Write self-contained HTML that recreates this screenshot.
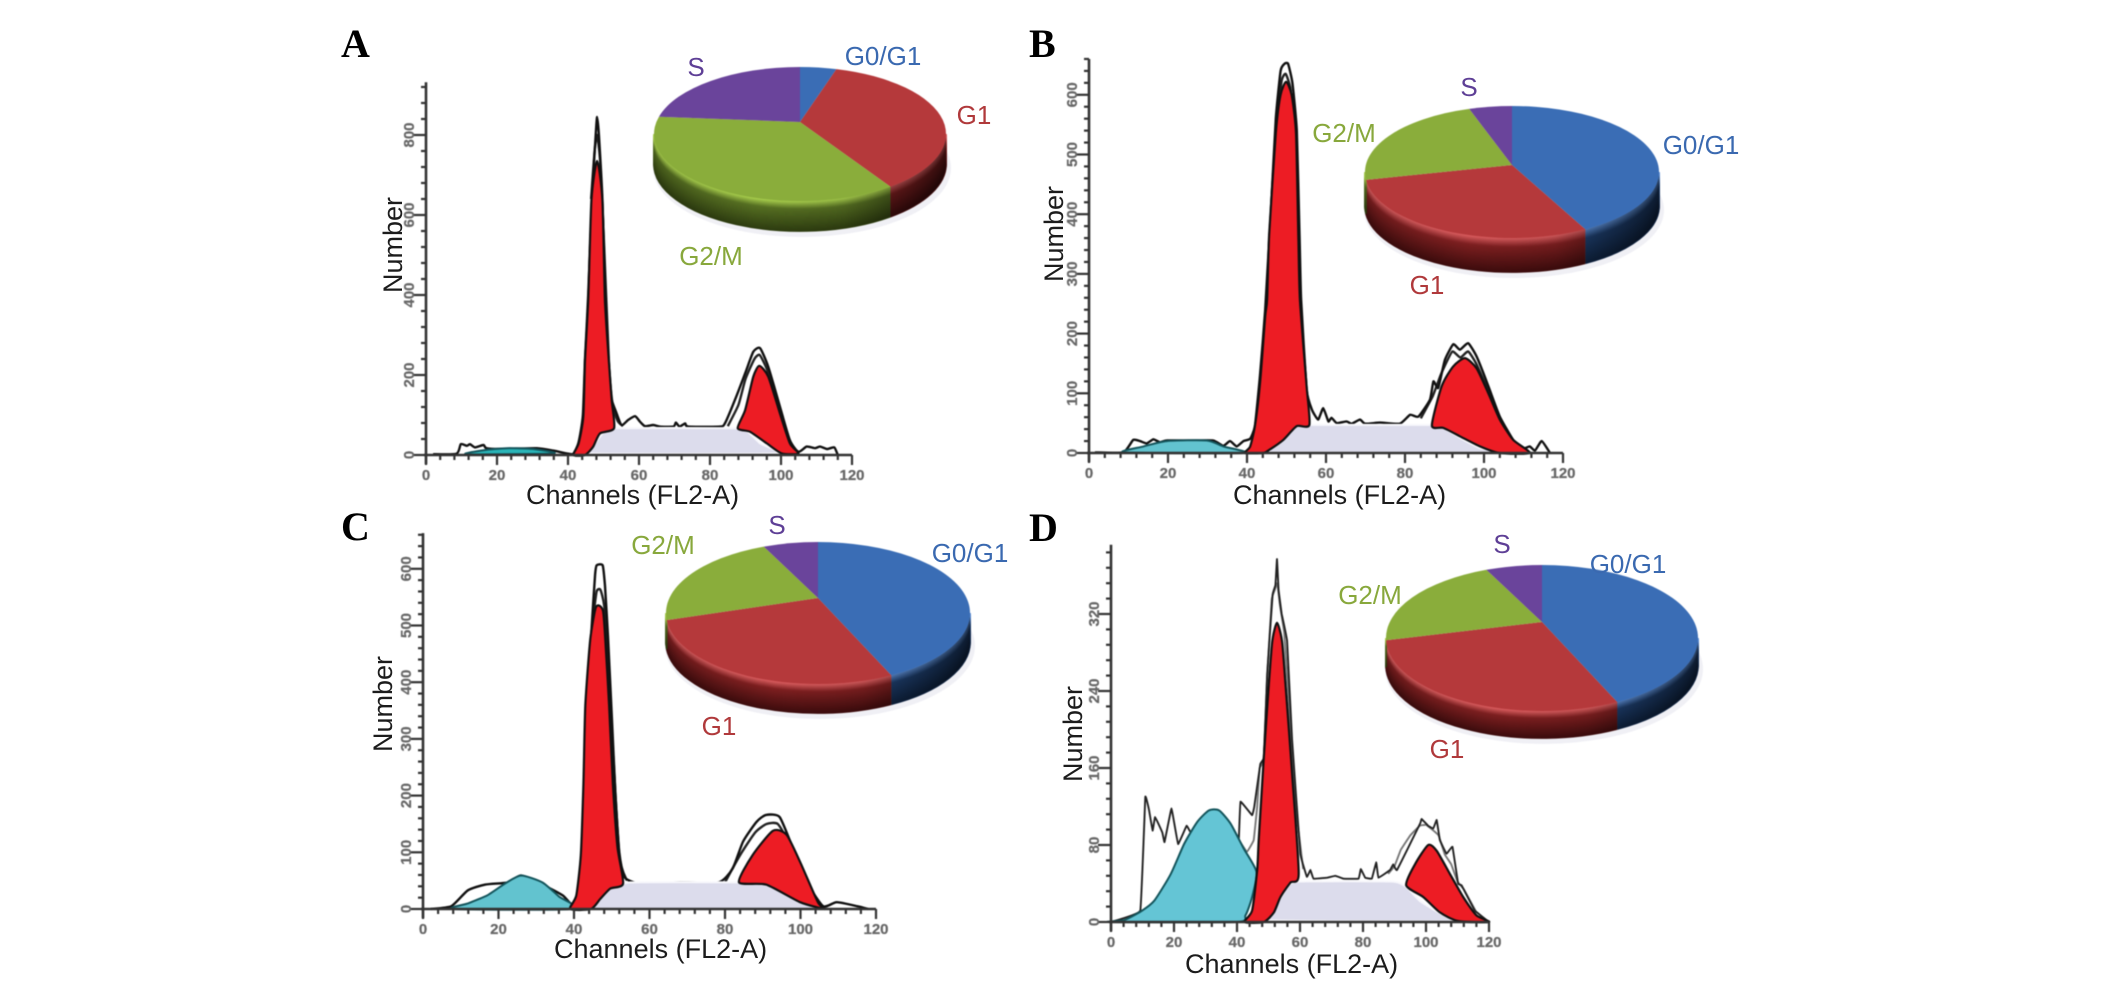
<!DOCTYPE html>
<html lang="en">
<head>
<meta charset="utf-8">
<title>Cell cycle histograms and pie charts</title>
<style>
html,body{margin:0;padding:0;background:#fff;width:2126px;height:988px;overflow:hidden}
svg{display:block;position:absolute;left:0;top:0}
.letter{font-family:"Liberation Serif",serif;font-weight:bold;font-size:40px;fill:#000}
.title{font-family:"Liberation Sans",sans-serif;font-size:27px;fill:#1c1c1c}
.pie-label{font-family:"Liberation Sans",sans-serif;font-size:26px;text-anchor:middle}
.blue{fill:#3a69b0}.red{fill:#b0393b}.green{fill:#88a83c}.purple{fill:#5e3f96}
.tick{font-family:"Liberation Sans",sans-serif;font-size:15px;font-weight:bold;fill:#666;stroke:#777;stroke-width:.3;text-anchor:middle}
.soft{filter:blur(.55px)}
</style>
</head>
<body>
<svg id="chart" xmlns="http://www.w3.org/2000/svg" width="2126" height="988" viewBox="0 0 2126 988">
  <defs>
    <linearGradient id="wall-shade" x1="0" x2="1" y1="0" y2="0">
      <stop offset="0" stop-color="#000" stop-opacity=".12"/>
      <stop offset=".35" stop-color="#000" stop-opacity="0"/>
      <stop offset=".65" stop-color="#000" stop-opacity=".08"/>
      <stop offset="1" stop-color="#000" stop-opacity=".55"/>
    </linearGradient>
  </defs>
  <g id="panel-a">
    <text class="letter" x="341" y="57">A</text>
    <g id="hist-a" class="soft"></g>
    <g id="pie-a" class="soft"></g>
    <text class="title" x="526" y="504">Channels (FL2-A)</text>
    <text class="title" transform="translate(402,293) rotate(-90)">Number</text>
    <text class="pie-label blue" x="883" y="65">G0/G1</text>
    <text class="pie-label red" x="974" y="124">G1</text>
    <text class="pie-label green" x="711" y="265">G2/M</text>
    <text class="pie-label purple" x="696" y="76">S</text>
  </g>
  <g id="panel-b">
    <text class="letter" x="1029" y="57">B</text>
    <g id="hist-b" class="soft"></g>
    <g id="pie-b" class="soft"></g>
    <text class="title" x="1233" y="504">Channels (FL2-A)</text>
    <text class="title" transform="translate(1063,282) rotate(-90)">Number</text>
    <text class="pie-label blue" x="1701" y="154">G0/G1</text>
    <text class="pie-label red" x="1427" y="294">G1</text>
    <text class="pie-label green" x="1344" y="142">G2/M</text>
    <text class="pie-label purple" x="1469" y="96">S</text>
  </g>
  <g id="panel-c">
    <text class="letter" x="341" y="540">C</text>
    <g id="hist-c" class="soft"></g>
    <g id="pie-c" class="soft"></g>
    <text class="title" x="554" y="958">Channels (FL2-A)</text>
    <text class="title" transform="translate(392,752) rotate(-90)">Number</text>
    <text class="pie-label blue" x="970" y="562">G0/G1</text>
    <text class="pie-label red" x="719" y="735">G1</text>
    <text class="pie-label green" x="663" y="554">G2/M</text>
    <text class="pie-label purple" x="777" y="534">S</text>
  </g>
  <g id="panel-d">
    <text class="letter" x="1029" y="541">D</text>
    <g id="hist-d" class="soft"></g>
    <g id="pie-d" class="soft"></g>
    <text class="title" x="1185" y="973">Channels (FL2-A)</text>
    <text class="title" transform="translate(1082,782) rotate(-90)">Number</text>
    <text class="pie-label blue" x="1628" y="573">G0/G1</text>
    <text class="pie-label red" x="1447" y="758">G1</text>
    <text class="pie-label green" x="1370" y="604">G2/M</text>
    <text class="pie-label purple" x="1502" y="553">S</text>
  </g>
</svg>
<script>
// Shared x tick labels
const xTickLabels = [0, 20, 40, 60, 80, 100, 120];

// Panel A data
const aYTicks = [0, 200, 400, 600, 800];
const aRawCh = [2, 8.6, 9.8, 11.5, 12.4, 13.8, 16.2, 17, 20.8, 31.2, 35.9, 39.6, 41.5, 43, 44.2, 44.8, 45.7, 46.8, 47.8, 48.2, 48.7, 49.7, 50.5, 51.3, 51.8, 53.7, 55.1, 57, 58.9, 60.3, 61.7, 64, 65.9, 69.7, 70.4, 71.4, 73, 73.9, 82.8, 84.2, 87, 89.9, 92.2, 94.1, 96.4, 99.7, 102.5, 104.9, 107.2, 109.6, 111, 113, 115, 116];
const aRawN = [2, 3, 27, 23, 27, 19, 25, 17, 15, 17, 11, 4, 3, 32, 100, 240, 400, 650, 800, 845, 800, 640, 400, 250, 154, 104, 75, 88, 97, 83, 72, 75, 71, 71, 81, 71, 79, 71, 71, 79, 137, 204, 258, 267, 221, 121, 37, 8, 21, 17, 21, 15, 19, 0];
const aRaw2Ch = [46.5, 47.5, 48.2, 49, 50, 51.5, 52.5, 54, 55.5];
const aRaw2N = [640, 760, 800, 740, 560, 240, 130, 85, 72];
const aRaw3Ch = [85, 88, 90, 92.5, 94, 96, 98, 100.5];
const aRaw3N = [72, 125, 190, 240, 250, 215, 160, 95];
const aDebrisCh = [11.5, 16.2, 22.7, 30.2, 35.9];
const aDebrisN = [2, 12, 17, 15, 4];
const aSCh = [45.7, 47.6, 50, 52.3, 87.5, 90.8, 94.1, 98.3];
const aSN = [4, 29, 57, 67, 67, 57, 29, 4];
const aG1Ch = [41.5, 43, 44.3, 44.8, 45.7, 46.6, 48.2, 49.7, 50.4, 51.5, 52.3, 53, 49, 47.1, 44.8];
const aG1N = [0, 29, 96, 237, 388, 637, 735, 637, 388, 237, 137, 67, 54, 21, 0];
const aG2Ch = [87.8, 89.9, 92.2, 93.9, 96.4, 99.7, 102.5, 104.9, 100.2, 96, 91.3];
const aG2N = [67, 112, 196, 223, 196, 104, 29, 4, 4, 29, 58];
const aPieShares = [4, 35.3, 39.7, 20.8];

// Panel B data
const bYTicks = [0, 100, 200, 300, 400, 500, 600];
const bRawCh = [1.5, 8.7, 11.2, 12.9, 14.6, 16.3, 18, 19.7, 26.4, 31.5, 34, 35.7, 37.4, 39.1, 40.8, 42, 43.3, 44.6, 46, 47.3, 48.5, 49.5, 50.4, 51.5, 52.6, 53.3, 53.7, 55.1, 56.4, 58, 59.3, 60.6, 61.4, 62.7, 65.2, 66.5, 68.6, 69.9, 73.7, 78.7, 81.3, 83.4, 86.3, 87.2, 88.4, 90.1, 92.2, 93.9, 96, 98.1, 101.1, 104, 107.4, 110, 111.6, 112.9, 114.6, 116.7];
const bRawN = [1, 1, 22, 20, 16, 23, 18, 21, 21, 21, 12, 20, 11, 20, 24, 45, 130, 240, 400, 560, 640, 652, 652, 620, 540, 365, 257, 106, 73, 56, 75, 53, 59, 50, 53, 49, 56, 49, 51, 49, 64, 61, 89, 120, 109, 156, 182, 173, 184, 162, 112, 61, 22, 8, 11, 4, 20, 0];
const bRaw2Ch = [47.8, 48.8, 49.8, 51, 52, 53];
const bRaw2N = [570, 625, 635, 610, 530, 360];
const bRaw3Ch = [84, 87, 89, 90, 92, 94, 96, 98, 101, 104];
const bRaw3N = [58, 95, 130, 145, 170, 160, 170, 150, 105, 58];
const bDebrisCh = [9.1, 13.8, 19.7, 29.8, 34, 39];
const bDebrisN = [1, 11, 20, 21, 11, 0];
const bSCh = [45.4, 48.4, 51.7, 53.4, 86.8, 89.7, 94.8, 99, 103.2];
const bSN = [1, 17, 42, 47, 47, 42, 22, 8, 1];
const bG1Ch = [39.5, 40.8, 42, 43.3, 44.6, 45.1, 45.6, 47.3, 48.5, 49.9, 51.3, 52.4, 53, 53.4, 55.1, 55.8, 52.6, 49.2, 45.8, 44.1];
const bG1N = [0, 11, 45, 117, 229, 257, 365, 536, 600, 622, 600, 536, 365, 257, 112, 47, 45, 22, 6, 0];
const bG2Ch = [86.8, 89.3, 92.2, 95.2, 98.1, 101.1, 104, 107.4, 111.6, 104, 99, 93.9, 89.7];
const bG2N = [46, 112, 145, 159, 142, 100, 56, 22, 0, 0, 11, 28, 42];
const bPieShares = [41.7, 31.4, 22.2, 4.7];

// Panel C data
const cYTicks = [0, 100, 200, 300, 400, 500, 600];
const cRawCh = [2, 7.5, 11.9, 16.5, 22.6, 26, 31.6, 37, 40.6, 42, 42.8, 43.5, 44.6, 45.6, 46, 47.6, 48.2, 49, 50, 51, 52, 53.5, 58.6, 67.6, 78.3, 82, 84.8, 88.4, 90.9, 94.5, 98, 101.7, 106, 109.6, 115, 117.9];
const cRawN = [0, 5, 33, 43, 47, 59, 43, 24, 5, 100, 230, 360, 490, 590, 606, 606, 570, 480, 340, 200, 100, 55, 43, 47, 47, 71, 119, 154, 166, 162, 107, 47, 5, 12, 5, 0];
const cRaw2Ch = [45.2, 46, 47, 48, 49, 50, 52, 54];
const cRaw2N = [520, 560, 563, 535, 450, 320, 95, 50];
const cRaw3Ch = [80, 84, 88, 91, 94, 97, 100];
const cRaw3N = [47, 95, 135, 150, 150, 115, 60];
const cDebrisCh = [8.3, 12, 17, 22, 26, 31.6, 36, 39.5];
const cDebrisN = [0, 10, 24, 46, 59, 47, 22, 0];
const cSCh = [44.9, 49.6, 55, 83.7, 90.9, 99.9, 102.8];
const cSN = [0, 36, 47, 47, 43, 12, 0];
const cG1Ch = [39, 40.6, 41.8, 42.5, 43, 44.3, 45.7, 46.7, 47.7, 48.3, 49.3, 50.3, 51.5, 53, 49.6, 47, 44.5];
const cG1N = [0, 24, 95, 220, 359, 475, 530, 535, 525, 475, 359, 220, 110, 45, 36, 18, 0];
const cG2Ch = [83.7, 87.3, 92.7, 96.3, 99.9, 104.6, 106.4, 99.9, 90.9];
const cG2N = [47, 95, 138, 131, 83, 12, 0, 12, 43];
const cPieShares = [42, 31.4, 20.8, 5.8];

// Panel D data
const dYTicks = [0, 80, 160, 240, 320];
const dRawCh = [0, 9.3, 10.9, 12.1, 13.2, 14, 16.3, 17, 19.2, 21.3, 24, 25.3, 27, 40, 40.6, 41.1, 44.8, 45.5, 47.4, 48.5, 49.6, 51.3, 52.2, 52.7, 53.2, 54.2, 55.9, 57.5, 60.1, 62.2, 63.3, 64.3, 68.6, 71.2, 73.8, 78.6, 79.3, 80.7, 82.8, 84.2, 84.9, 88.6, 89.6, 90.8, 98.1, 98.6, 100.7, 102.3, 103.4, 104.4, 106.5, 108.4, 110.2, 111.3, 115.5, 120];
const dRawN = [0, 12, 130, 116, 95, 109, 93, 83, 118, 81, 100, 93, 100, 80, 88, 125, 111, 120, 164, 171, 258, 340, 350, 377, 345, 320, 292, 189, 71, 47, 54, 45, 46, 48, 45, 45, 55, 46, 45, 62, 46, 54, 60, 54, 102, 107, 100, 97, 106, 85, 71, 78, 40, 38, 12, 0];
const dRaw2Ch = [40.6, 43.2, 45.3, 46.4, 47.2, 48.5, 49.5, 51, 52, 52.8, 53.6, 55, 57, 59, 61];
const dRaw2N = [85, 73, 85, 120, 160, 168, 250, 335, 345, 352, 330, 300, 200, 110, 55];
const dRaw3Ch = [88, 90, 92, 95, 98, 100, 102, 104, 106, 108, 110, 112, 116];
const dRaw3N = [50, 58, 75, 90, 100, 101, 96, 90, 70, 60, 42, 34, 10];
const dDebrisCh = [0, 4.2, 9.5, 13.7, 19, 23.2, 27.4, 31.1, 34.3, 38, 42.2, 46.2, 44.8, 42.7, 39.6];
const dDebrisN = [0, 2, 11, 22, 50, 81, 104, 116, 116, 102, 76, 52, 26, 7, 0];
const dSCh = [49.6, 52.7, 55.9, 59, 89.6, 93.9, 98, 104.4, 110];
const dSN = [2, 19, 36, 42, 42, 36, 22, 9, 1];
const dG1Ch = [42.4, 44.8, 46.4, 46.9, 48.5, 50.1, 51.2, 52.7, 54.3, 55.4, 57.5, 59.6, 57, 53.8, 51.7, 48.5];
const dG1N = [0, 12, 54, 85, 171, 247, 292, 311, 292, 247, 154, 50, 41, 26, 10, 0];
const dG2Ch = [93.7, 96.5, 100.7, 103.4, 107.6, 111.8, 116, 120, 110.2, 104.4, 99.1];
const dG2N = [38, 60, 80, 74, 50, 26, 7, 0, 1, 10, 26];
const dPieShares = [42, 32.5, 19.7, 5.8];

const NS = 'http://www.w3.org/2000/svg';
function make(tag, attrs, parent) {
  const e = document.createElementNS(NS, tag);
  for (const k in attrs) e.setAttribute(k, attrs[k]);
  parent.appendChild(e);
  return e;
}
// Builds a gently rounded path through the points given by data arrays and axis functions.
function curve(chs, ns, X, Y, closed, k) {
  const p = chs.map((c, i) => [X(c), Y(ns[i])]);
  const n = p.length;
  const at = i => closed ? p[(i + n) % n] : p[Math.max(0, Math.min(n - 1, i))];
  let d = 'M' + p[0][0].toFixed(1) + ' ' + p[0][1].toFixed(1);
  const last = closed ? n : n - 1;
  for (let i = 0; i < last; i++) {
    const p0 = at(i - 1), p1 = at(i), p2 = at(i + 1), p3 = at(i + 2);
    d += 'C' + (p1[0] + (p2[0] - p0[0]) * k).toFixed(1) + ' ' + (p1[1] + (p2[1] - p0[1]) * k).toFixed(1) + ' ' +
         (p2[0] - (p3[0] - p1[0]) * k).toFixed(1) + ' ' + (p2[1] - (p3[1] - p1[1]) * k).toFixed(1) + ' ' +
         p2[0].toFixed(1) + ' ' + p2[1].toFixed(1);
  }
  return d + (closed ? 'Z' : '');
}
function drawHistogram(id, ax, yTicks, yMinorStep, s) {
  const g = document.getElementById(id);
  const X = c => ax.x0 + c * ax.kx;
  const Y = v => ax.y0 - v * ax.ky;
  const lineAttrs = (chs, ns, color) => ({d: curve(chs, ns, X, Y, false, ax.rawK), fill: 'none', stroke: color, 'stroke-width': ax.rawWidth, 'stroke-linejoin': 'round'});
  const areaK = 0.11;

  const raw2 = make('path', lineAttrs(s.raw2Ch, s.raw2N, ax.raw2Color), g);
  
  

  const raw3 = make('path', lineAttrs(s.raw3Ch, s.raw3N, ax.raw2Color), g);
  
  

  const raw = make('path', lineAttrs(s.rawCh, s.rawN, ax.rawColor), g);
  
  

  const debris = make('path', {d: curve(s.debrisCh, s.debrisN, X, Y, true, areaK), fill: ax.debrisFill, stroke: '#14555c', 'stroke-width': 2, 'stroke-linejoin': 'round'}, g);
  
  

  const sArea = make('path', {d: curve(s.sCh, s.sN, X, Y, true, 0.06), fill: '#dcdcec', stroke: '#f8f8fc', 'stroke-width': 2}, g);
  
  

  const g1 = make('path', {d: curve(s.g1Ch, s.g1N, X, Y, true, areaK), fill: '#ed1c24', stroke: '#111', 'stroke-width': 2.2, 'stroke-linejoin': 'round'}, g);
  
  

  const g2 = make('path', {d: curve(s.g2Ch, s.g2N, X, Y, true, areaK), fill: '#ed1c24', stroke: '#111', 'stroke-width': 2.2, 'stroke-linejoin': 'round'}, g);
  
  

  const xAxis = make('line', {x1: X(0) - 2, x2: X(120), y1: Y(0), y2: Y(0), stroke: '#333', 'stroke-width': 2.4}, g);
  
  

  const yAxis = make('line', {x1: X(0), x2: X(0), y1: Y(0) + 9, y2: Y(ax.yTop), stroke: '#333', 'stroke-width': 2.6}, g);
  
  

  for (let c = 0; c <= 120; c += 4) {
    const major = xTickLabels.indexOf(c) >= 0;
    const t = make('line', {x1: X(c), x2: X(c), y1: Y(0), y2: Y(0) + (major ? 10 : 5), stroke: '#333', 'stroke-width': 2.2}, g);
    
    
  }
  xTickLabels.forEach(v => {
    const t = make('text', {x: X(v), y: Y(0) + 25, 'class': 'tick'}, g);
    
    
    t.textContent = v;
  });
  for (let v = 0; v <= ax.yTop; v += yMinorStep) {
    const major = yTicks.indexOf(v) >= 0;
    const t = make('line', {x1: X(0) - (major ? 13 : 5), x2: X(0), y1: Y(v), y2: Y(v), stroke: '#333', 'stroke-width': 2.2}, g);
    
    
  }
  yTicks.forEach(v => {
    const t = make('text', {'class': 'tick', transform: 'translate(' + (X(0) - 12) + ',' + Y(v) + ') rotate(-90)'}, g);
    
    
    t.textContent = v;
  });
}

const pieTop = ['#3a6db5', '#b5393b', '#8aad3b', '#6a449b'];
const pieRim = ['#5d8fd6', '#d65a5c', '#a6cc4c', '#8a66bd'];
const pieMid = ['#1f4070', '#7d1f20', '#566f22', '#44296a'];
const pieDark = ['#0f2340', '#3d0c0d', '#2e3d10', '#25143c'];
function hexMix(a, b, f) {
  const p = h => [1, 3, 5].map(i => parseInt(h.substr(i, 2), 16));
  const A = p(a), B = p(b);
  return 'rgb(' + A.map((v, i) => Math.round(v + (B[i] - v) * f)).join(',') + ')';
}
function drawPie(id, shares, geo) {
  const g = document.getElementById(id);
  const total = shares.reduce((a, b) => a + b, 0);
  const P = (t, dy) => {
    const r = t * Math.PI / 180;
    return [geo.cx + geo.rx * Math.sin(r), geo.cy - geo.ry * Math.cos(r) + (dy || 0)];
  };
  const halo = make('ellipse', {cx: geo.cx + 2, cy: geo.cy + geo.wall + 4, rx: geo.rx + 3, ry: geo.ry + 2, fill: '#f0f0f5'}, g);
  
  

  let start = 0;
  const ranges = shares.map(v => {
    const r = [start, start + v / total * 360];
    start = r[1];
    return r;
  });
  ranges.forEach((r, i) => {
    const a = Math.max(r[0], 90), b = Math.min(r[1], 270);
    if (b <= a) return;
    for (let d = geo.wall; d >= 0; d--) {
      const f = d / geo.wall;
      const col = f < 0.25 ? hexMix(pieRim[i], pieMid[i], f / 0.25) : hexMix(pieMid[i], pieDark[i], (f - 0.25) / 0.75);
      const p0 = P(a, d), p1 = P(b, d);
      const arc = make('path', {d: 'M' + p0[0] + ' ' + p0[1] + 'A' + geo.rx + ' ' + geo.ry + ' 0 0 1 ' + p1[0] + ' ' + p1[1], fill: 'none', stroke: col, 'stroke-width': 1.8}, g);
      
      
    }
  });
  const r0 = P(90), r1 = P(270), b0 = P(90, geo.wall), b1 = P(270, geo.wall);
  const shade = make('path', {d: 'M' + r0[0] + ' ' + r0[1] + 'L' + b0[0] + ' ' + b0[1] + 'A' + geo.rx + ' ' + geo.ry + ' 0 0 1 ' + b1[0] + ' ' + b1[1] + 'L' + r1[0] + ' ' + r1[1] + 'A' + geo.rx + ' ' + geo.ry + ' 0 0 0 ' + r0[0] + ' ' + r0[1] + 'Z', fill: 'url(#wall-shade)'}, g);
  
  

  const names = ['slice-g0g1', 'slice-g1', 'slice-g2m', 'slice-s'];
  ranges.forEach((r, i) => {
    const p0 = P(r[0]), p1 = P(r[1]);
    const large = r[1] - r[0] > 180 ? 1 : 0;
    const slice = make('path', {d: 'M' + geo.cx + ' ' + geo.apex + 'L' + p0[0] + ' ' + p0[1] + 'A' + geo.rx + ' ' + geo.ry + ' 0 ' + large + ' 1 ' + p1[0] + ' ' + p1[1] + 'Z', fill: pieTop[i]}, g);
    
    
  });
}

drawHistogram('hist-a', {x0: 426, kx: 3.55, y0: 455, ky: 0.4, yTop: 932, rawColor: '#111', raw2Color: '#222', rawWidth: 2.4, rawK: 0.1, debrisFill: '#2ab5b8'}, aYTicks, 40, {
  rawCh: aRawCh, rawN: aRawN, raw2Ch: aRaw2Ch, raw2N: aRaw2N, raw3Ch: aRaw3Ch, raw3N: aRaw3N, debrisCh: aDebrisCh, debrisN: aDebrisN, sCh: aSCh, sN: aSN, g1Ch: aG1Ch, g1N: aG1N, g2Ch: aG2Ch, g2N: aG2N});
drawHistogram('hist-b', {x0: 1089, kx: 3.95, y0: 453, ky: 0.597, yTop: 660, rawColor: '#111', raw2Color: '#222', rawWidth: 2.4, rawK: 0.08, debrisFill: '#62c3cf'}, bYTicks, 20, {
  rawCh: bRawCh, rawN: bRawN, raw2Ch: bRaw2Ch, raw2N: bRaw2N, raw3Ch: bRaw3Ch, raw3N: bRaw3N, debrisCh: bDebrisCh, debrisN: bDebrisN, sCh: bSCh, sN: bSN, g1Ch: bG1Ch, g1N: bG1N, g2Ch: bG2Ch, g2N: bG2N});
drawHistogram('hist-c', {x0: 423, kx: 3.775, y0: 909, ky: 0.567, yTop: 663, rawColor: '#111', raw2Color: '#222', rawWidth: 2.4, rawK: 0.1, debrisFill: '#62c3cf'}, cYTicks, 20, {
  rawCh: cRawCh, rawN: cRawN, raw2Ch: cRaw2Ch, raw2N: cRaw2N, raw3Ch: cRaw3Ch, raw3N: cRaw3N, debrisCh: cDebrisCh, debrisN: cDebrisN, sCh: cSCh, sN: cSN, g1Ch: cG1Ch, g1N: cG1N, g2Ch: cG2Ch, g2N: cG2N});
drawHistogram('hist-d', {x0: 1111, kx: 3.15, y0: 922, ky: 0.9625, yTop: 392, rawColor: '#222', raw2Color: '#777', rawWidth: 1.9, rawK: 0.03, debrisFill: '#64c5d5'}, dYTicks, 16, {
  rawCh: dRawCh, rawN: dRawN, raw2Ch: dRaw2Ch, raw2N: dRaw2N, raw3Ch: dRaw3Ch, raw3N: dRaw3N, debrisCh: dDebrisCh, debrisN: dDebrisN, sCh: dSCh, sN: dSN, g1Ch: dG1Ch, g1N: dG1N, g2Ch: dG2Ch, g2N: dG2N});

drawPie('pie-a', aPieShares, {cx: 800, cy: 134, rx: 146, ry: 67, apex: 122, wall: 30});
drawPie('pie-b', bPieShares, {cx: 1512, cy: 172, rx: 147, ry: 66, apex: 165, wall: 34});
drawPie('pie-c', cPieShares, {cx: 818, cy: 613, rx: 152, ry: 71, apex: 598, wall: 29});
drawPie('pie-d', dPieShares, {cx: 1542, cy: 638, rx: 156, ry: 73, apex: 622, wall: 27});
</script>
</body>
</html>
